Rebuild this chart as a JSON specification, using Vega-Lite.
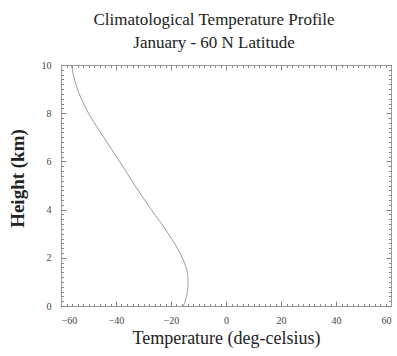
{
  "$schema": "https://vega.github.io/schema/vega-lite/v6.json",
  "width": 330,
  "height": 241,
  "autosize": "none",
  "padding": {"left": 61, "top": 65, "right": 6, "bottom": 50},
  "background": "white",
  "title": {
    "text": ["Climatological Temperature Profile", "January - 60 N Latitude"],
    "font": "Liberation Serif",
    "fontSize": 17,
    "fontWeight": "normal",
    "color": "#222",
    "lineHeight": 23,
    "anchor": "middle",
    "dx": -12,
    "offset": 8
  },
  "config": {
    "view": {"stroke": "#999", "strokeWidth": 1},
    "axis": {
      "grid": false,
      "domainColor": "#999",
      "tickColor": "#888",
      "labelFont": "Liberation Serif",
      "labelFontSize": 10,
      "labelColor": "#444",
      "titleFont": "Liberation Serif",
      "titleColor": "#222"
    }
  },
  "data": {
    "values": [
      {"h": 0.0, "t": -15.5},
      {"h": 0.25, "t": -14.7},
      {"h": 0.5, "t": -14.2},
      {"h": 0.75, "t": -13.9},
      {"h": 1.0, "t": -13.8},
      {"h": 1.25, "t": -13.9},
      {"h": 1.5, "t": -14.3},
      {"h": 1.75, "t": -15.0},
      {"h": 2.0, "t": -15.9},
      {"h": 2.5, "t": -18.2},
      {"h": 3.0, "t": -21.0},
      {"h": 3.5, "t": -24.0},
      {"h": 4.0, "t": -27.2},
      {"h": 4.5, "t": -30.2},
      {"h": 5.0, "t": -33.1},
      {"h": 5.5, "t": -35.9},
      {"h": 6.0, "t": -38.7},
      {"h": 6.5, "t": -41.6},
      {"h": 7.0, "t": -44.5},
      {"h": 7.5, "t": -47.3},
      {"h": 8.0, "t": -50.0},
      {"h": 8.5, "t": -52.2},
      {"h": 9.0, "t": -54.0},
      {"h": 9.5, "t": -55.3},
      {"h": 10.0, "t": -56.2}
    ]
  },
  "resolve": {"axis": {"x": "independent", "y": "independent"}},
  "layer": [
    {
      "mark": {"type": "line", "color": "#999", "strokeWidth": 1, "interpolate": "monotone"},
      "encoding": {
        "x": {"field": "t", "type": "quantitative", "scale": {"domain": [-60, 60], "nice": false},
          "axis": {"orient": "bottom", "title": "Temperature (deg-celsius)", "titleFontSize": 18, "titleFontWeight": "normal", "values": [-60, -40, -20, 0, 20, 40, 60], "tickSize": -5, "labelPadding": 14, "titlePadding": 4}},
        "y": {"field": "h", "type": "quantitative", "scale": {"domain": [0, 10], "nice": false},
          "axis": {"orient": "left", "title": "Height (km)", "titleFontSize": 19, "titleFontWeight": "bold", "titleY": 113, "values": [0, 2, 4, 6, 8, 10], "tickSize": -5, "labelPadding": 15, "titlePadding": 14}},
        "order": {"field": "h", "type": "quantitative"}
      }
    },
    {
      "mark": {"type": "line", "opacity": 0},
      "encoding": {
        "x": {"field": "t", "type": "quantitative", "scale": {"domain": [-60, 60], "nice": false},
          "axis": {"orient": "top", "title": null, "values": [-60, -40, -20, 0, 20, 40, 60], "tickSize": -5, "labels": false}},
        "y": {"field": "h", "type": "quantitative", "scale": {"domain": [0, 10], "nice": false},
          "axis": {"orient": "right", "title": null, "values": [0, 2, 4, 6, 8, 10], "tickSize": -5, "labels": false}},
        "order": {"field": "h", "type": "quantitative"}
      }
    },
    {
      "mark": {"type": "line", "opacity": 0},
      "encoding": {
        "x": {"field": "t", "type": "quantitative", "scale": {"domain": [-60, 60], "nice": false},
          "axis": {"orient": "top", "title": null, "tickCount": 60, "tickSize": -2.5, "labels": false, "domain": false}},
        "y": {"field": "h", "type": "quantitative", "scale": {"domain": [0, 10], "nice": false},
          "axis": {"orient": "right", "title": null, "tickCount": 50, "tickSize": -2.5, "labels": false, "domain": false}},
        "order": {"field": "h", "type": "quantitative"}
      }
    },
    {
      "mark": {"type": "line", "opacity": 0},
      "encoding": {
        "x": {"field": "t", "type": "quantitative", "scale": {"domain": [-60, 60], "nice": false},
          "axis": {"orient": "bottom", "title": null, "tickCount": 60, "tickSize": -2.5, "labels": false, "domain": false}},
        "y": {"field": "h", "type": "quantitative", "scale": {"domain": [0, 10], "nice": false},
          "axis": {"orient": "left", "title": null, "tickCount": 50, "tickSize": -2.5, "labels": false, "domain": false}},
        "order": {"field": "h", "type": "quantitative"}
      }
    }
  ]
}
